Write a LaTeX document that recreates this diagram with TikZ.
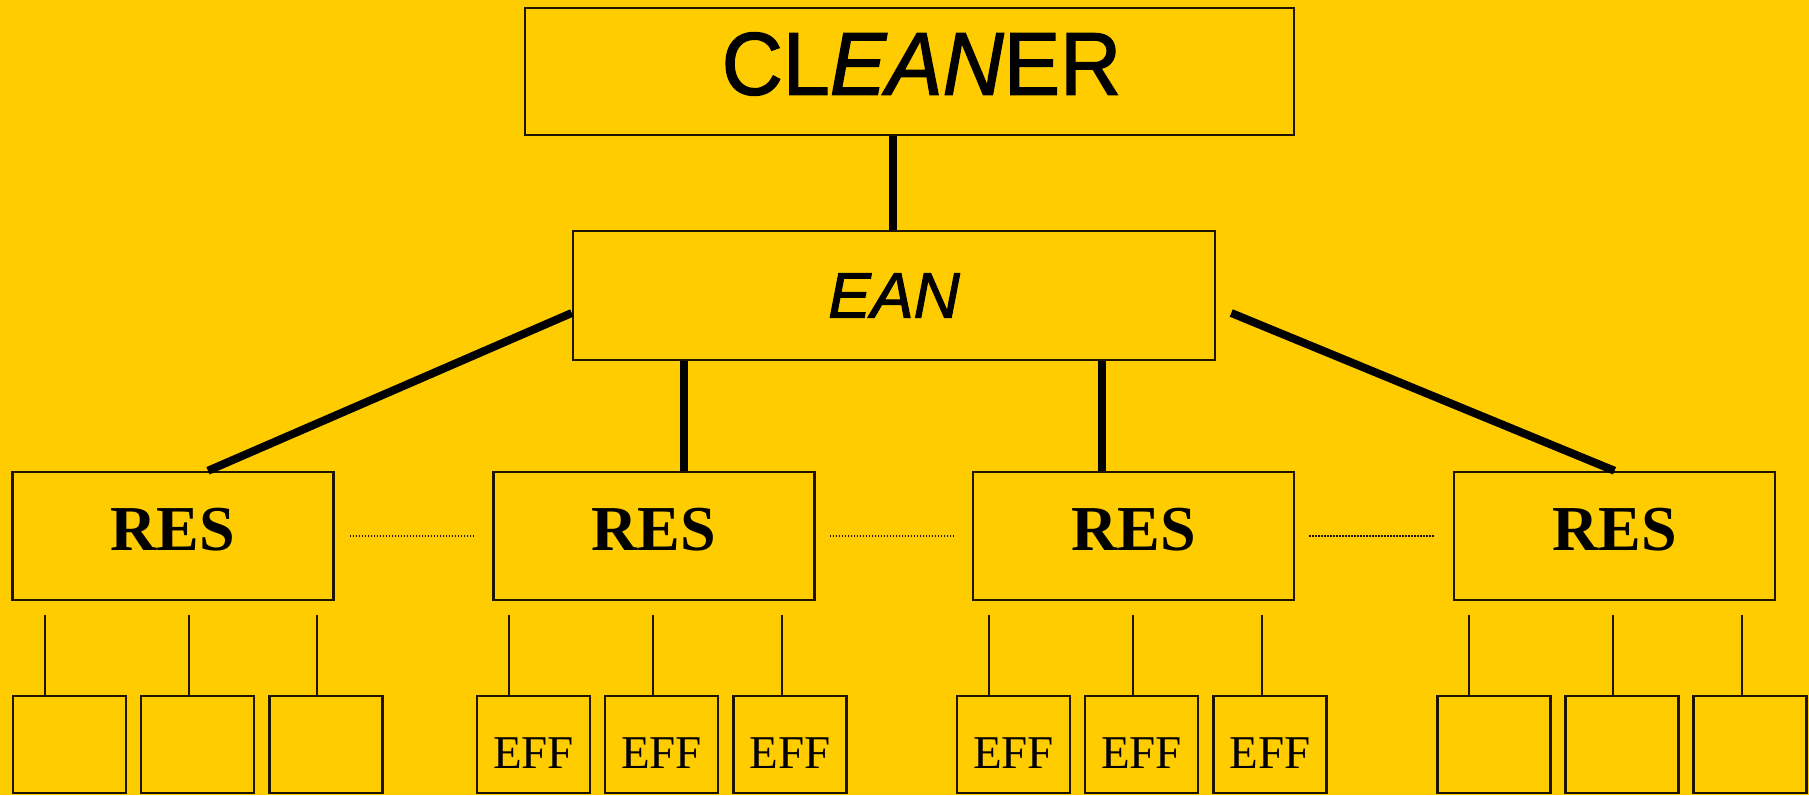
\documentclass[tikz,border=0pt]{standalone}
\usepackage{fontspec}
\usepackage{graphicx}
\setmainfont{Liberation Serif}
\newfontfamily\arial[FakeBold=1.6]{Liberation Sans}
\definecolor{amber}{RGB}{255,204,0}
\definecolor{ink}{RGB}{30,20,0}
\begin{document}
\begin{tikzpicture}[x=1pt,y=-1pt,
  box/.style={draw=ink, fill=amber, line width=2.5pt, inner sep=0pt, rectangle},
  headbox/.style={box, minimum width=769pt, minimum height=127pt},
  eanbox/.style={box, minimum width=642pt, minimum height=129pt,
    font=\arial\itshape\fontsize{64}{64}\selectfont},
  resbox/.style={box, minimum width=321pt, minimum height=128pt,
    font=\bfseries\fontsize{64}{64}\selectfont, text depth=14pt},
  leafbox/.style={box, minimum width=113pt, minimum height=97pt,
    font=\fontsize{47}{47}\selectfont, text height=47pt, text depth=0pt},
  trunk/.style={line width=8pt, draw=black},
  twig/.style={line width=2.5pt, draw=ink},
  dotline/.style={line width=2pt, draw=ink, dash pattern=on 1.5pt off 1.5pt}]

% background
\fill[amber] (0,0) rectangle (1809,795);
\useasboundingbox (0,0) rectangle (1809,795);

% top levels
\node[headbox, label={[xshift=12pt, yshift=7.5pt, inner sep=0pt,
    font=\arial\fontsize{89}{89}\selectfont]center:{\scalebox{0.95}[1]{CL\textit{EAN}ER}}}]
  (cleaner) at (909.5,71.5) {};
\node[eanbox] (ean) at (894,295.5) {EAN};

% resource boxes
\node[resbox] (res1) at (173,536) {RES};
\node[resbox] (res2) at (654,536) {RES};
\node[resbox] (res3) at (1133.5,536) {RES};
\node[resbox] (res4) at (1614.5,536) {RES};

% thick links
\draw[trunk] ([xshift=-16.5pt]cleaner.south) -- ([xshift=-16.5pt]cleaner.south |- ean.north);
\draw[trunk] ([yshift=-17.5pt]ean.west) -- ([xshift=35pt]res1.north);
\draw[trunk] ([xshift=112pt]ean.south west) -- ([xshift=112pt]ean.south west |- res2.north);
\draw[trunk] ([xshift=-114pt]ean.south east) -- ([xshift=-114pt]ean.south east |- res3.north);
\draw[trunk] ([xshift=15pt,yshift=-17.5pt]ean.east) -- (res4.north);

% dotted links between resources
\draw[dotline] ([xshift=15pt]res1.east) -- ([xshift=-18pt]res2.west);
\draw[dotline] ([xshift=14pt]res2.east) -- ([xshift=-18pt]res3.west);
\draw[dotline] ([xshift=14pt]res3.east) -- ([xshift=-18pt]res4.west);

% leaf boxes and their stubs
\coordinate (stub) at (0,615);
\foreach \n/\cx/\lx in {a1/69.5/45, a2/197.5/189, a3/326/317,
                        d1/1494/1469, d2/1622/1613, d3/1750/1742} {
  \pgfmathsetmacro\dx{\lx-\cx}
  \node[leafbox] (\n) at (\cx,744.5) {};
  \draw[twig] ([xshift=\dx pt]\n.north) -- ([xshift=\dx pt]\n.north |- stub);
}
\foreach \n/\cx/\lx in {b1/533.5/509, b2/661.5/653, b3/790/782,
                        c1/1013.5/989, c2/1141.5/1133, c3/1270/1262} {
  \pgfmathsetmacro\dx{\lx-\cx}
  \node[leafbox] (\n) at (\cx,744.5) {EFF};
  \draw[twig] ([xshift=\dx pt]\n.north) -- ([xshift=\dx pt]\n.north |- stub);
}
\end{tikzpicture}
\end{document}
